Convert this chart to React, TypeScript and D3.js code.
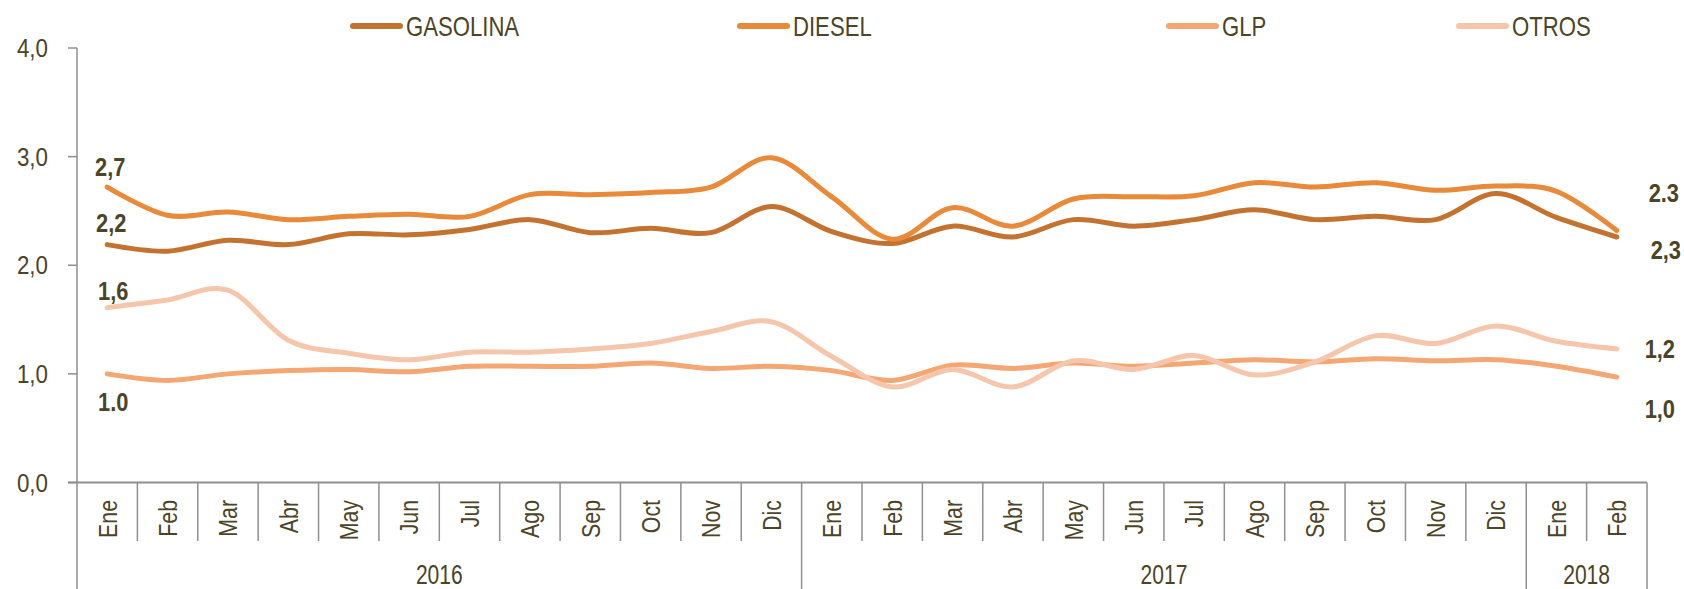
import React, { useEffect, useRef } from 'react';
import * as d3 from 'd3';

const months2016 = ['Ene', 'Feb', 'Mar', 'Abr', 'May', 'Jun', 'Jul', 'Ago', 'Sep', 'Oct', 'Nov', 'Dic'];
const months2017 = ['Ene', 'Feb', 'Mar', 'Abr', 'May', 'Jun', 'Jul', 'Ago', 'Sep', 'Oct', 'Nov', 'Dic'];
const months2018 = ['Ene', 'Feb'];
const yearLabels = ['2016', '2017', '2018'];

const gasolina = [2.19, 2.13, 2.23, 2.19, 2.29, 2.28, 2.33, 2.42, 2.30, 2.34, 2.30, 2.54, 2.31, 2.20, 2.36, 2.26, 2.42, 2.36, 2.42, 2.51, 2.42, 2.45, 2.42, 2.66, 2.44, 2.26];
const diesel = [2.72, 2.46, 2.49, 2.42, 2.45, 2.47, 2.45, 2.65, 2.65, 2.67, 2.72, 2.99, 2.63, 2.24, 2.53, 2.36, 2.61, 2.63, 2.64, 2.76, 2.72, 2.76, 2.69, 2.73, 2.68, 2.32];
const glp = [1.00, 0.94, 1.00, 1.03, 1.04, 1.02, 1.07, 1.07, 1.07, 1.10, 1.05, 1.07, 1.03, 0.94, 1.08, 1.05, 1.10, 1.07, 1.10, 1.13, 1.11, 1.14, 1.12, 1.13, 1.07, 0.97];
const otros = [1.61, 1.68, 1.77, 1.31, 1.19, 1.13, 1.20, 1.20, 1.23, 1.28, 1.39, 1.48, 1.16, 0.88, 1.04, 0.88, 1.12, 1.04, 1.17, 0.99, 1.11, 1.35, 1.28, 1.44, 1.30, 1.23];

const seriesNames = ['GASOLINA', 'DIESEL', 'GLP', 'OTROS'];
const startLabels = ['2,2', '2,7', '1.0', '1,6'];
const endLabels = ['2,3', '2.3', '1,0', '1,2'];
const yTicks = [0, 1, 2, 3, 4];

const colors = ['#c4722f', '#e88a3a', '#f4a673', '#f6c6ac'];
const textColor = '#4b4427';
const axisColor = '#8f8f8f';
const font = '"Liberation Sans", Arial, sans-serif';

// label offsets (px) from first / last point of each series
const startOffsets = [[4, -13], [3, -11], [6, 37], [6, -8]];
const endOffsets = [[49, 22], [47, -28], [43, 41], [43, 9]];
const legendX = [350, 737, 1166, 1456];

const W = 1684;
const H = 589;

const App = () => {
    const svgRef = useRef<SVGSVGElement>(null);

    useEffect(() => {
        const svg = d3.select(svgRef.current);
        svg.selectAll('*').remove();

        const groups = [months2016, months2017, months2018];
        const keys: string[] = [];
        groups.forEach((g, gi) => g.forEach(m => keys.push(yearLabels[gi] + '-' + m)));

        const x = d3.scaleBand().domain(keys).range([77, 1647]);
        const y = d3.scaleLinear().domain([0, 4]).range([482.5, 48]);
        const cx = (i: number) => (x(keys[i]) as number) + x.bandwidth() / 2;

        const addText = (str: string, tx: number, ty: number, o: any = {}) => {
            const sx = o.sx ?? 0.8;
            svg.append('text')
                .attr('transform', `translate(${tx},${ty}) ${o.rotate ? 'rotate(-90)' : ''} scale(${sx},1)`)
                .attr('text-anchor', o.anchor || 'middle')
                .attr('dy', o.dy || 0)
                .attr('font-family', font)
                .attr('font-size', o.size || 25)
                .attr('font-weight', o.weight || 'normal')
                .attr('fill', textColor)
                .text(str);
        };

        // y axis
        svg.append('line')
            .attr('x1', 77).attr('x2', 77)
            .attr('y1', y(4)).attr('y2', H)
            .attr('stroke', axisColor).attr('stroke-width', 1.5);
        yTicks.forEach(t => {
            svg.append('line')
                .attr('x1', 68).attr('x2', 77)
                .attr('y1', y(t)).attr('y2', y(t))
                .attr('stroke', axisColor).attr('stroke-width', 1.5);
            addText(d3.format('.1f')(t).replace('.', ','), 48, y(t), { anchor: 'end', dy: '0.35em', size: 26, sx: 0.86 });
        });

        // x axis
        svg.append('line')
            .attr('x1', 68).attr('x2', 1647)
            .attr('y1', y(0)).attr('y2', y(0))
            .attr('stroke', axisColor).attr('stroke-width', 2);

        let idx = 0;
        groups.forEach((g, gi) => {
            const startX = x(keys[idx]) as number;
            g.forEach((m, mi) => {
                const left = x(keys[idx]) as number;
                if (mi > 0) {
                    svg.append('line')
                        .attr('x1', left).attr('x2', left)
                        .attr('y1', y(0)).attr('y2', 541)
                        .attr('stroke', axisColor).attr('stroke-width', 1.5);
                }
                addText(m, cx(idx), 500, { rotate: true, anchor: 'end', dy: '0.36em', size: 26, sx: 0.82 });
                idx++;
            });
            const endX = idx < keys.length ? (x(keys[idx]) as number) : 1647;
            svg.append('line')
                .attr('x1', endX).attr('x2', endX)
                .attr('y1', y(0)).attr('y2', H)
                .attr('stroke', axisColor).attr('stroke-width', 1.5);
            addText(yearLabels[gi], (startX + endX) / 2, 584, { size: 27, sx: 0.78 });
        });

        // lines
        const allSeries = [gasolina, diesel, glp, otros];
        const line = d3.line<number>()
            .x((d, i) => cx(i))
            .y(d => y(d))
            .curve(d3.curveCardinal.tension(0));

        allSeries.forEach((s, si) => {
            svg.append('path')
                .attr('d', line(s))
                .attr('fill', 'none')
                .attr('stroke', colors[si])
                .attr('stroke-width', 5)
                .attr('stroke-linecap', 'round')
                .attr('stroke-linejoin', 'round');
        });

        // data labels
        allSeries.forEach((s, si) => {
            addText(startLabels[si], cx(0) + startOffsets[si][0], y(s[0]) + startOffsets[si][1], { size: 26, weight: 'bold', sx: 0.84 });
            const n = s.length - 1;
            addText(endLabels[si], cx(n) + endOffsets[si][0], y(s[n]) + endOffsets[si][1], { size: 26, weight: 'bold', sx: 0.84 });
        });

        // legend
        seriesNames.forEach((name, i) => {
            svg.append('line')
                .attr('x1', legendX[i] + 3).attr('x2', legendX[i] + 50)
                .attr('y1', 26).attr('y2', 26)
                .attr('stroke', colors[i])
                .attr('stroke-width', 6)
                .attr('stroke-linecap', 'round');
            addText(name, legendX[i] + 56, 26, { anchor: 'start', dy: '0.36em', size: 27, sx: 0.82 });
        });
    }, []);

    return (
        <div>
            <svg ref={svgRef} width={W} height={H} style={{ position: 'absolute', left: 0, top: 0, background: '#fff' }}></svg>
        </div>
    );
};

export default App;
